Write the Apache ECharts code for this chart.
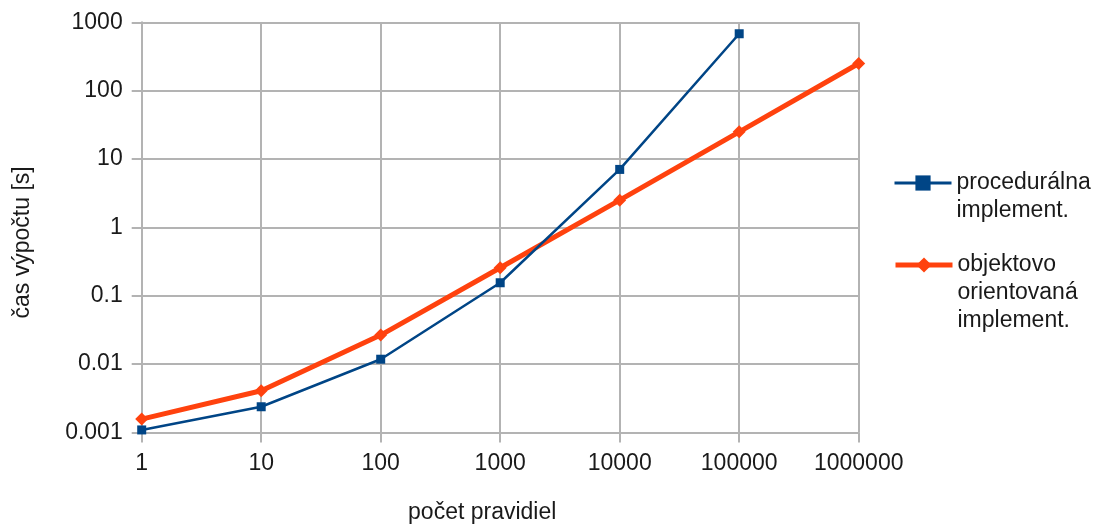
<!DOCTYPE html>
<html>
<head>
<meta charset="utf-8">
<script src="https://cdn.jsdelivr.net/npm/echarts@6/dist/echarts.min.js"></script>
<style>html,body{margin:0;padding:0;background:#fff}#c{width:1106px;height:525px}</style>
</head>
<body>
<div id="c"></div>
<script>
const xValues = [1, 10, 100, 1000, 10000, 100000, 1000000];
const procedural = [0.00109, 0.00238, 0.0118, 0.155, 7.05, 680];
const objectOriented = [0.00157, 0.00408, 0.0266, 0.257, 2.5, 25, 250];
const seriesNames = ['procedurálna\nimplement.', 'objektovo\norientovaná\nimplement.'];
const xAxisTitle = 'počet pravidiel';
const yAxisTitle = 'čas výpočtu [s]';

const FONT = '"Liberation Sans", Arial, sans-serif';
const TXT = '#1a1a1a';
const GRID = '#b3b3b3';
const LH = 28;
const FS = 23;

function fmt(v) { return String(Number(v.toPrecision(6))); }
function pairs(vals) { return vals.map((v, i) => [xValues[i], v]); }
// put empty lines before the text so that the icon lines up with the first line
function legendFmt(name) {
  const n = name.split('\n').length;
  return ' \n'.repeat(n - 1) + name;
}

const chart = echarts.init(document.getElementById('c'));
chart.setOption({
  animation: false,
  backgroundColor: '#fff',
  textStyle: { fontFamily: FONT },
  grid: { left: 141.7, right: 247.3, top: 22.3, bottom: 92.5, containLabel: false, outerBoundsMode: 'none' },
  xAxis: {
    type: 'log', logBase: 10, min: 1, max: 1000000,
    name: xAxisTitle, nameLocation: 'middle', nameGap: 69,
    nameTextStyle: { color: TXT, fontSize: FS, fontFamily: FONT, padding: [0, 36, 0, 0] },
    axisLine: { show: true, lineStyle: { color: GRID, width: 2 } },
    axisTick: { show: true, length: 10, lineStyle: { color: GRID, width: 2 } },
    axisLabel: { color: TXT, fontSize: FS, fontFamily: FONT, margin: 20, formatter: fmt },
    splitLine: { show: true, lineStyle: { color: GRID, width: 2 } },
    minorTick: { show: false }, minorSplitLine: { show: false }
  },
  yAxis: {
    type: 'log', logBase: 10, min: 0.001, max: 1000,
    name: yAxisTitle, nameLocation: 'middle', nameGap: 108, nameRotate: 90,
    nameTextStyle: { color: TXT, fontSize: FS, fontFamily: FONT, padding: [0, 30, 0, 0] },
    axisLine: { show: true, lineStyle: { color: GRID, width: 2 } },
    axisTick: { show: true, length: 10, lineStyle: { color: GRID, width: 2 } },
    axisLabel: { color: TXT, fontSize: FS, fontFamily: FONT, margin: 19, formatter: fmt },
    splitLine: { show: true, lineStyle: { color: GRID, width: 2 } }
  },
  legend: [
    {
      data: [seriesNames[0]], formatter: legendFmt,
      orient: 'vertical', left: 893, top: 141, padding: 0,
      itemWidth: 57, itemHeight: 19, itemGap: 0,
      lineStyle: { width: 3 },
      textStyle: { color: TXT, fontSize: FS, fontFamily: FONT, lineHeight: LH }
    },
    {
      data: [seriesNames[1]], formatter: legendFmt,
      orient: 'vertical', left: 893, top: 195, padding: 0,
      itemWidth: 57, itemHeight: 19, itemGap: 0,
      lineStyle: { width: 5 },
      textStyle: { color: TXT, fontSize: FS, fontFamily: FONT, lineHeight: LH }
    }
  ],
  series: [
    {
      name: seriesNames[0], type: 'line', data: pairs(procedural),
      symbol: 'rect', symbolSize: 9,
      lineStyle: { color: '#004586', width: 2.5 },
      itemStyle: { color: '#004586' },
      z: 3
    },
    {
      name: seriesNames[1], type: 'line', data: pairs(objectOriented),
      symbol: 'diamond', symbolSize: 13,
      lineStyle: { color: '#ff420e', width: 5 },
      itemStyle: { color: '#ff420e' },
      z: 2
    }
  ]
});
</script>
</body>
</html>
